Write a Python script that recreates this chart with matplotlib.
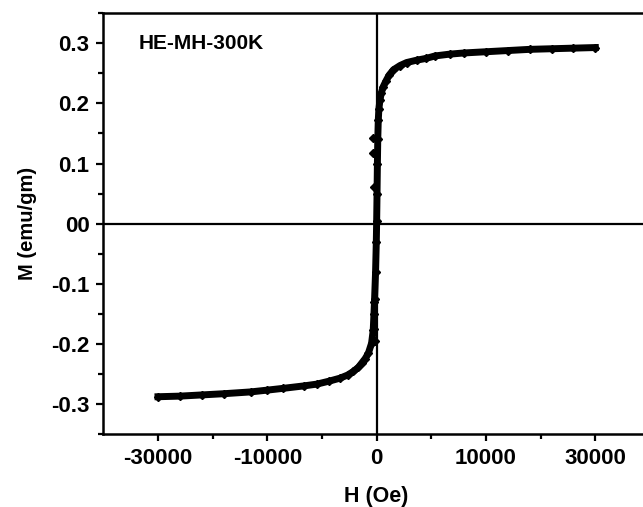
import numpy as np
import matplotlib
matplotlib.use('Agg')
import matplotlib.pyplot as plt
from matplotlib.ticker import FixedLocator, MultipleLocator

plt.rcParams['font.family'] = ['Liberation Sans', 'DejaVu Sans']
plt.rcParams['font.weight'] = 'bold'

# Positive field branch (Oe, emu/gm)
h_pos = [0, 50, 100, 150, 220, 300, 450, 650, 900, 1300, 1700, 2300, 3200,
         4100, 5500, 6800, 8000, 10000, 12000, 15000, 18000, 21000, 24000,
         27000, 30000]
m_pos = [0.005, 0.05, 0.10, 0.14, 0.172, 0.19, 0.206, 0.218, 0.228, 0.238,
         0.247, 0.256, 0.263, 0.268, 0.272, 0.275, 0.279, 0.282, 0.284,
         0.286, 0.288, 0.290, 0.291, 0.292, 0.293]

# Negative field branch
h_neg = [-30000, -27000, -24000, -21000, -17300, -15000, -12800, -10000,
         -8200, -6500, -5000, -4000, -3200, -2500, -2050, -1600, -1150,
         -700, -470, -300, -150, -50]
m_neg = [-0.288, -0.287, -0.285, -0.283, -0.280, -0.277, -0.274, -0.270,
         -0.267, -0.262, -0.257, -0.252, -0.246, -0.239, -0.232, -0.225,
         -0.216, -0.199, -0.177, -0.130, -0.080, -0.030]

# Stray points of the return branch near zero field
h_ret = [-470, -470, -300, -250, -350, -300, -200]
m_ret = [0.142, 0.117, 0.061, -0.125, -0.150, -0.175, -0.195]

x_ticks = [-30000, -15000, 0, 15000, 30000]
x_labels = ['-30000', '-10000', '0', '10000', '30000']
y_ticks = [-0.3, -0.2, -0.1, 0.0, 0.1, 0.2, 0.3]
y_labels = ['-0.3', '-0.2', '-0.1', '00', '0.1', '0.2', '0.3']

fig = plt.figure(figsize=(6.43, 5.07), dpi=100)
ax = fig.add_axes([0.1607, 0.144, 0.8502, 0.8298])

ax.axhline(0, color='black', lw=1.6, zorder=1)
ax.axvline(0, color='black', lw=1.6, zorder=1)

h_all = h_neg + h_pos
m_all = m_neg + m_pos
ax.plot(h_all, m_all, color='black', lw=5, marker='D', ms=4.5, zorder=3)
ax.plot(h_ret, m_ret, ls='none', color='black', marker='D', ms=4.5, zorder=3)

ax.set_xlim(-37500, 37500)
ax.set_ylim(-0.35, 0.35)

ax.xaxis.set_major_locator(FixedLocator(x_ticks))
ax.set_xticklabels(x_labels)
ax.xaxis.set_minor_locator(FixedLocator([-22500, -7500, 7500, 22500]))
ax.set_yticks(y_ticks)
ax.set_yticklabels(y_labels)
ax.yaxis.set_minor_locator(MultipleLocator(0.05))

ax.tick_params(which='major', direction='out', length=5, width=1.6,
               labelsize=16, pad=5)
ax.tick_params(which='minor', direction='out', length=3.5, width=1.6)
for lab in ax.get_xticklabels() + ax.get_yticklabels():
    lab.set_fontweight('bold')

for side in ['left', 'bottom', 'top', 'right']:
    ax.spines[side].set_linewidth(1.8)

ax.set_xlabel('H (Oe)', fontsize=15.5, fontweight='bold', labelpad=12)
ax.set_ylabel('M (emu/gm)', fontsize=14.5, fontweight='bold', labelpad=10)

ax.text(-32700, 0.3, 'HE-MH-300K', fontsize=15, fontweight='bold',
        va='center', ha='left')

fig.savefig('out.png', dpi=100)
